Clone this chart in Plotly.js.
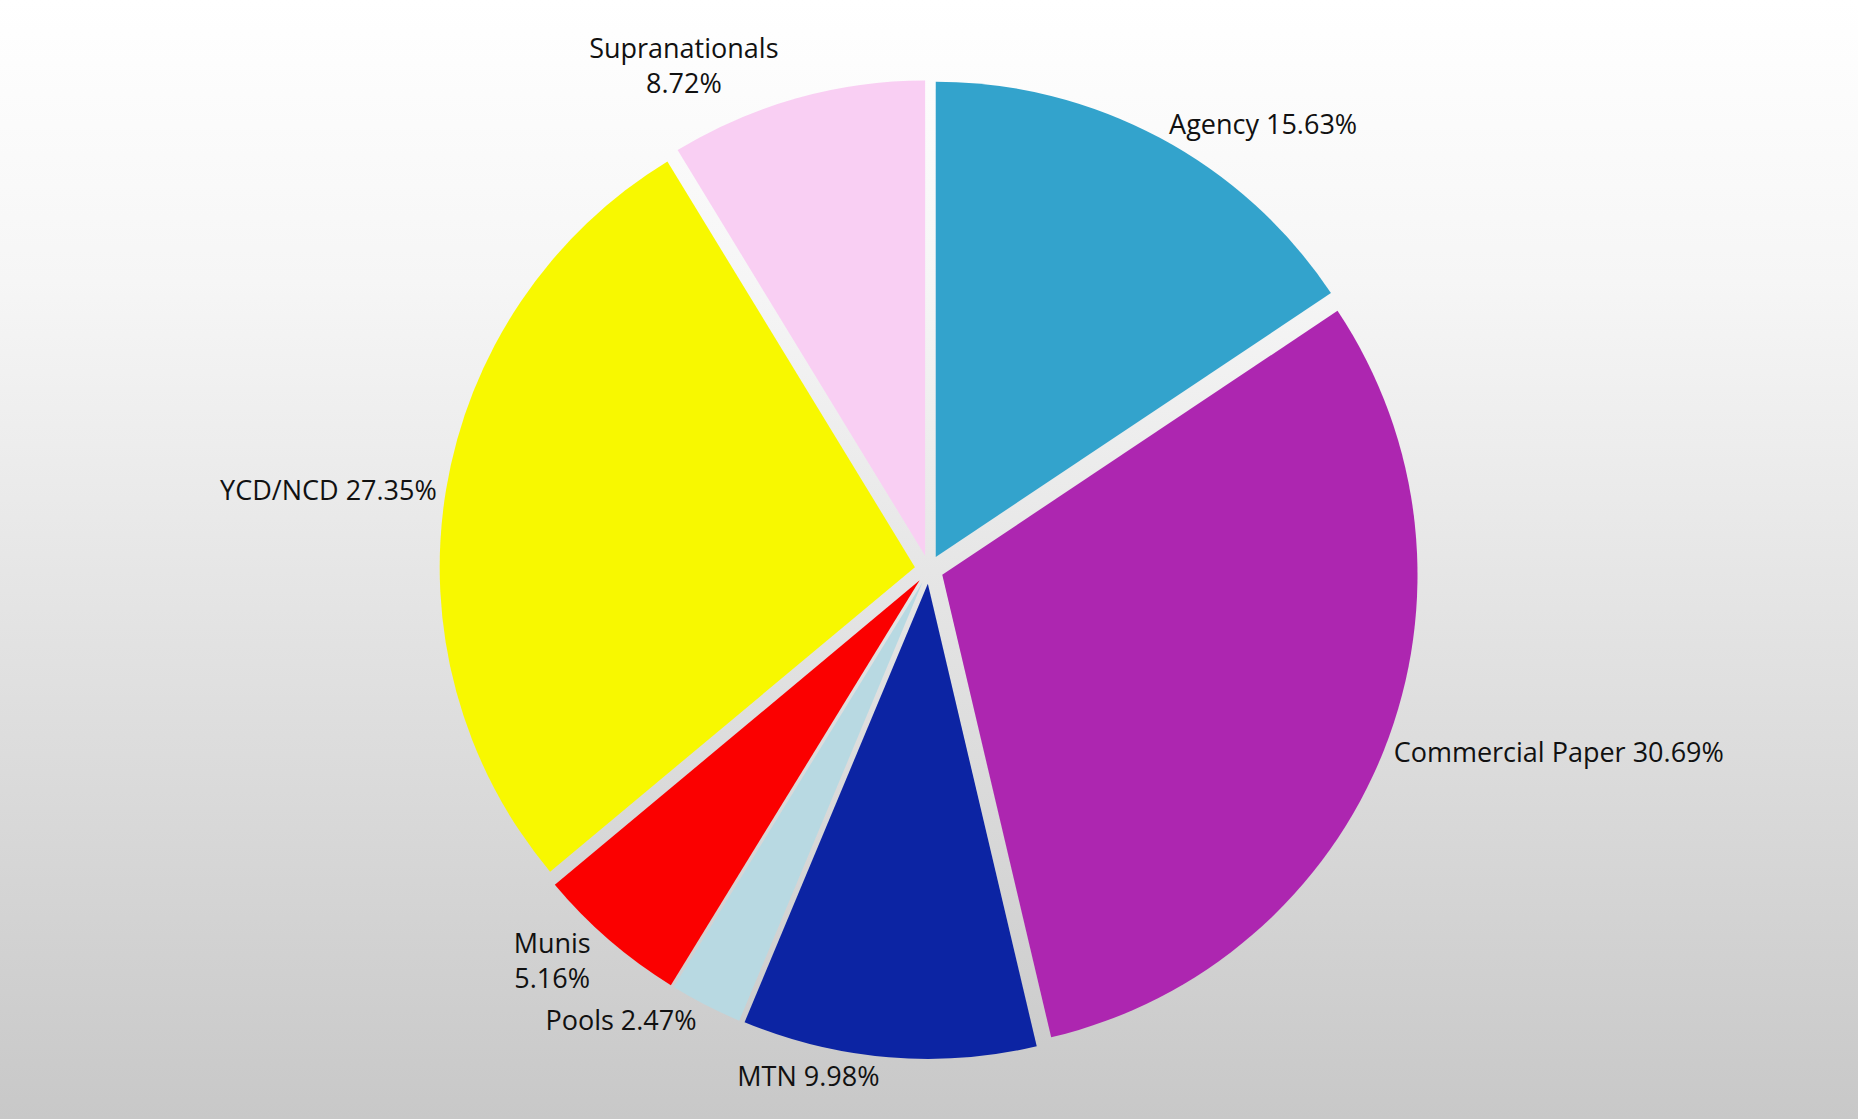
<!DOCTYPE html>
<html>
<head>
<meta charset="utf-8">
<script src="https://cdn.plot.ly/plotly-3.0.1.min.js"></script>
<style>
  html, body { margin: 0; padding: 0; }
  body { background: linear-gradient(#ffffff, #f6f6f6 25%, #c8c8c8); width: 1858px; height: 1119px; }
  #chart { width: 1858px; height: 1119px; }
</style>
</head>
<body>
<div id="chart"></div>
<script>
const labels = ['Agency', 'Commercial Paper', 'MTN', 'Pools', 'Munis', 'YCD/NCD', 'Supranationals'];
const shares = [15.63, 30.69, 9.98, 2.47, 5.16, 27.35, 8.72];
const colors = ['#33a3cc', '#ad26b0', '#0c24a3', '#b8d9e2', '#fb0000', '#f8f800', '#f9cff3'];
const breakLine = ['Munis', 'Supranationals'];

const texts = labels.map((l, i) =>
  l + (breakLine.includes(l) ? '<br>' : ' ') + shares[i].toFixed(2) + '%');

const trace = {
  type: 'pie',
  labels: labels,
  values: shares,
  text: texts,
  sort: false,
  direction: 'clockwise',
  rotation: 0,
  pull: labels.map(() => 0.03),
  marker: { colors: colors, line: { color: 'rgba(0,0,0,0)', width: 0 } },
  textinfo: 'text',
  textposition: 'outside',
  outsidetextfont: { family: 'Open Sans, sans-serif', size: 27, color: '#111' },
  hoverinfo: 'label+value',
  showlegend: false
};

const layout = {
  paper_bgcolor: 'rgba(0,0,0,0)',
  plot_bgcolor: 'rgba(0,0,0,0)',
  margin: { l: 150, r: 150, t: 80, b: 60 },
  showlegend: false
};

Plotly.newPlot('chart', [trace], layout, { displayModeBar: false });
</script>
</body>
</html>
